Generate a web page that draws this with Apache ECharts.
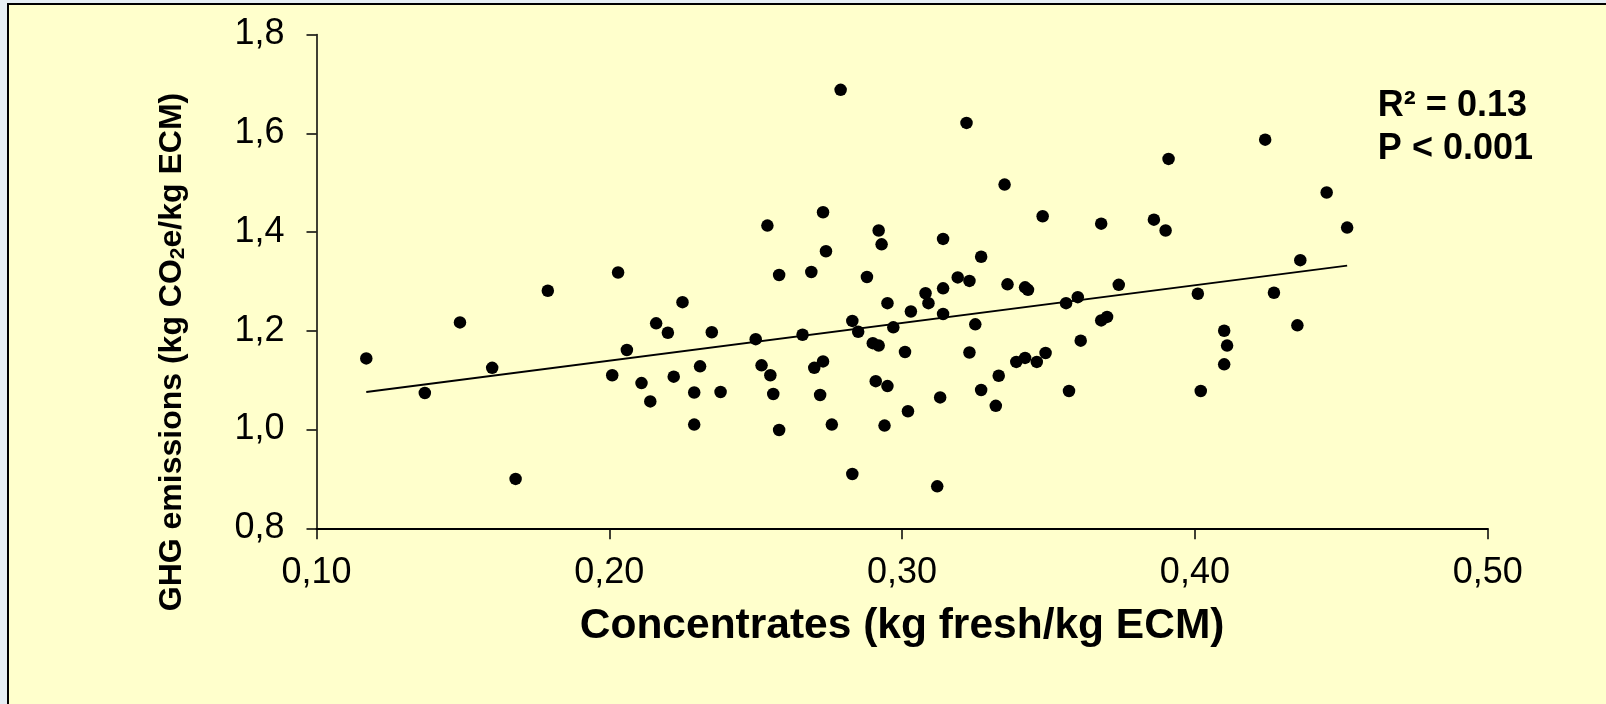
<!DOCTYPE html>
<html>
<head>
<meta charset="utf-8">
<script src="https://cdn.jsdelivr.net/npm/echarts@6/dist/echarts.min.js"></script>
<style>
    html, body { margin: 0; padding: 0; overflow: hidden; background: #e6eef4; }
    #frame {
        position: absolute; left: 6.7px; top: 3.4px; width: 1700px; height: 800px;
        background: #ffffcc; border-left: 2.7px solid #000; border-top: 2.7px solid #000;
    }
    #chart { position: absolute; left: 0; top: 0; width: 1606px; height: 704px; }
</style>
</head>
<body>
<div id="frame"></div>
<div id="chart"></div>
<script>
// 精料 (kg fresh/kg ECM)
const concentrates = [
    0.117, 0.137, 0.149, 0.160, 0.168, 0.179, 0.201, 0.203, 0.206, 0.211,
    0.214, 0.216, 0.220, 0.222, 0.225, 0.229, 0.229, 0.231, 0.235, 0.238,
    0.250, 0.252, 0.254, 0.255, 0.256, 0.258, 0.258, 0.266, 0.269, 0.270,
    0.272, 0.273, 0.273, 0.274, 0.276, 0.279, 0.283, 0.283, 0.285, 0.288,
    0.290, 0.291, 0.292, 0.292, 0.293, 0.294, 0.295, 0.295, 0.297, 0.301,
    0.302, 0.303, 0.308, 0.309, 0.312, 0.313, 0.314, 0.314, 0.314, 0.319,
    0.322, 0.323, 0.323, 0.325, 0.327, 0.327, 0.332, 0.333, 0.335, 0.336,
    0.339, 0.342, 0.342, 0.343, 0.346, 0.348, 0.349, 0.356, 0.357, 0.360,
    0.361, 0.368, 0.368, 0.370, 0.374, 0.386, 0.390, 0.391, 0.401, 0.402,
    0.410, 0.411, 0.410, 0.424, 0.427, 0.435, 0.436, 0.445, 0.452
];
// GHG emissions (kg CO2e/kg ECM)
const ghgEmissions = [
    1.144, 1.074, 1.217, 1.125, 0.900, 1.281, 1.110, 1.318, 1.161, 1.094,
    1.057, 1.215, 1.196, 1.107, 1.258, 1.075, 1.010, 1.128, 1.197, 1.076,
    1.183, 1.130, 1.413, 1.110, 1.072, 1.313, 0.999, 1.192, 1.319, 1.125,
    1.070, 1.440, 1.138, 1.361, 1.010, 1.688, 1.220, 0.910, 1.198, 1.309,
    1.175, 1.098, 1.403, 1.170, 1.375, 1.008, 1.256, 1.088, 1.207, 1.157,
    1.037, 1.239, 1.276, 1.256, 0.885, 1.065, 1.386, 1.286, 1.234, 1.308,
    1.621, 1.301, 1.156, 1.213, 1.350, 1.080, 1.048, 1.109, 1.496, 1.294,
    1.137, 1.145, 1.288, 1.283, 1.137, 1.432, 1.155, 1.256, 1.078, 1.268,
    1.180, 1.417, 1.221, 1.228, 1.293, 1.425, 1.403, 1.548, 1.275, 1.078,
    1.200, 1.170, 1.132, 1.587, 1.277, 1.211, 1.343, 1.480, 1.409
];
// 趋势线端点
const trendX = [0.117, 0.452];
const trendY = [1.076, 1.332];
const statText = ['R² = 0.13', 'P < 0.001'];

const points = concentrates.map((x, i) => [x, ghgEmissions[i]]);
const trend = trendX.map((x, i) => [x, trendY[i]]);

const FONT = 'Liberation Sans, Arial, sans-serif';
const chart = echarts.init(document.getElementById('chart'));
chart.setOption({
    animation: false,
    backgroundColor: 'transparent',
    textStyle: { fontFamily: FONT },
    grid: { left: 316.5, right: 118.3, top: 34.5, bottom: 175.7 },
    xAxis: {
        type: 'value',
        min: 0.1,
        max: 0.5,
        interval: 0.1,
        name: 'Concentrates (kg fresh/kg ECM)',
        nameLocation: 'middle',
        nameGap: 76,
        nameTextStyle: { fontSize: 42.5, fontWeight: 'bold', color: '#000' },
        axisLine: { lineStyle: { color: '#000', width: 1.8 } },
        axisTick: { inside: false, length: 11, lineStyle: { color: '#000', width: 1.5 } },
        axisLabel: {
            fontSize: 36,
            color: '#000',
            margin: 27,
            formatter: (v) => v.toFixed(2).replace('.', ',')
        },
        splitLine: { show: false }
    },
    yAxis: {
        type: 'value',
        min: 0.8,
        max: 1.8,
        interval: 0.2,
        axisLine: { lineStyle: { color: '#000', width: 1.5 } },
        axisTick: { inside: false, length: 10, lineStyle: { color: '#000', width: 1.5 } },
        axisLabel: {
            fontSize: 36,
            color: '#000',
            margin: 32,
            formatter: (v) => v.toFixed(1).replace('.', ',')
        },
        splitLine: { show: false }
    },
    graphic: [
        {
            // 纵轴标题（偏下，与原图一致）
            type: 'text',
            x: 172,
            y: 352,
            rotation: Math.PI / 2,
            style: {
                text: '{a|GHG emissions (kg CO}{s|2}{a|e/kg ECM)}',
                align: 'center',
                verticalAlign: 'middle',
                fill: '#000',
                rich: {
                    a: { fontSize: 32, fontWeight: 'bold', fontFamily: FONT, fill: '#000', lineHeight: 34 },
                    s: { fontSize: 21, fontWeight: 'bold', fontFamily: FONT, fill: '#000', verticalAlign: 'bottom', lineHeight: 34 }
                }
            }
        },
        {
            type: 'text',
            right: 1606 - 1533,
            top: 85,
            style: {
                text: statText.join('\n'),
                font: 'bold 36px ' + FONT,
                fill: '#000',
                align: 'right',
                lineHeight: 43
            }
        }
    ],
    series: [
        {
            type: 'scatter',
            data: points,
            symbol: 'circle',
            symbolSize: 12.5,
            itemStyle: { color: '#000', opacity: 1 },
            z: 3
        },
        {
            type: 'line',
            data: trend,
            showSymbol: false,
            symbol: 'none',
            lineStyle: { color: '#000', width: 1.8 },
            z: 4
        }
    ]
});
</script>
</body>
</html>
